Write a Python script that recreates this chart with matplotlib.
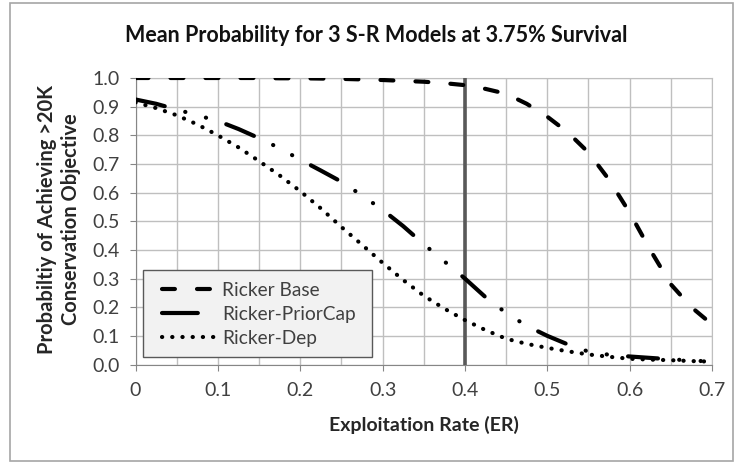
import matplotlib
matplotlib.use("Agg")
import matplotlib.pyplot as plt
from matplotlib.patches import Rectangle
from matplotlib.ticker import MultipleLocator

plt.rcParams['font.family'] = ['Lato', 'DejaVu Sans']

er = [0.0, 0.025, 0.05, 0.075, 0.1, 0.125, 0.15, 0.175, 0.2, 0.225, 0.25, 0.275, 0.3,
      0.325, 0.35, 0.375, 0.4, 0.425, 0.45, 0.475, 0.5, 0.525, 0.55, 0.575, 0.6,
      0.625, 0.65, 0.675, 0.7]
ricker_base = [1.0, 1.0, 1.0, 1.0, 1.0, 1.0, 1.0, 0.999, 0.999, 0.998, 0.997, 0.995, 0.993,
               0.99, 0.987, 0.982, 0.975, 0.962, 0.945, 0.91, 0.865, 0.81, 0.74, 0.645, 0.53,
               0.4, 0.28, 0.2, 0.14]
ricker_priorcap = [0.925, 0.91, 0.89, 0.87, 0.85, 0.822, 0.79, 0.755, 0.715, 0.677, 0.638, 0.59, 0.54,
                   0.483, 0.42, 0.36, 0.30, 0.235, 0.18, 0.135, 0.10, 0.07, 0.045, 0.034, 0.028,
                   0.023, 0.018, 0.014, 0.01]
ricker_dep = [0.915, 0.895, 0.87, 0.838, 0.80, 0.758, 0.71, 0.66, 0.605, 0.545, 0.48, 0.418, 0.355,
              0.295, 0.24, 0.195, 0.155, 0.12, 0.09, 0.072, 0.058, 0.046, 0.035, 0.027, 0.02,
              0.017, 0.015, 0.012, 0.01]
vline_er = 0.4

title = "Mean Probability for 3 S-R Models at 3.75% Survival"
xlabel = "Exploitation Rate (ER)"
ylabel = "Probabiltiy of Achieving >20K\nConservation Objective"
xticks = [0, 0.1, 0.2, 0.3, 0.4, 0.5, 0.6, 0.7]
xticklabels = ["0", "0.1", "0.2", "0.3", "0.4", "0.5", "0.6", "0.7"]
yticks = [0.0, 0.1, 0.2, 0.3, 0.4, 0.5, 0.6, 0.7, 0.8, 0.9, 1.0]
yticklabels = ["%.1f" % v for v in yticks]

W, H = 736, 462
fig = plt.figure(figsize=(W / 100, H / 100), dpi=100)
fig.patches.append(Rectangle((10 / W, 1 - 461 / H), 723 / W, 458 / H, transform=fig.transFigure,
                             fill=False, edgecolor='#a6a6a6', linewidth=1.2))
ax = fig.add_axes([135.5 / W, 1 - 364.5 / H, 576.5 / W, 286.5 / H])

ax.set_xlim(0, 0.7)
ax.set_ylim(0, 1.0)
ax.xaxis.set_minor_locator(MultipleLocator(0.05))
ax.set_xticks(xticks)
ax.set_xticklabels(xticklabels)
ax.set_yticks(yticks)
ax.set_yticklabels(yticklabels)
ax.grid(True, which='both', color='#bfbfbf', linewidth=1.0)
ax.set_axisbelow(True)
ax.tick_params(axis='both', which='major', length=4.3, color='#868686', labelsize=14, labelcolor='#404040')
ax.tick_params(axis='x', which='minor', length=0)
ax.tick_params(axis='x', which='major', pad=8)
ax.tick_params(axis='y', which='major', pad=7)
for s in ['top', 'right']:
    ax.spines[s].set_color('#bfbfbf')
for s in ['left', 'bottom']:
    ax.spines[s].set_color('#868686')

ax.axvline(vline_er, color='#595959', linewidth=2.6, zorder=3)

LW = 3.0
l1, = ax.plot(er, ricker_base, color='black', linewidth=LW, label='Ricker Base',
              dash_capstyle='round', zorder=4)
l1.set_dashes([3.1, 5.3])
l2, = ax.plot(er, ricker_priorcap, color='black', linewidth=LW, label='Ricker-PriorCap',
              dash_capstyle='round', zorder=4)
l2.set_dashes([7.2, 5.1, 0.05, 5.1, 0.05, 5.1])
l3, = ax.plot(er, ricker_dep, color='black', linewidth=LW, label='Ricker-Dep',
              dash_capstyle='round', zorder=4)
l3.set_dashes([0.05, 2.4])

# legend box
ax.add_patch(Rectangle((7 / 576, 7.5 / 286), 229 / 576, 87 / 286, transform=ax.transAxes,
                       facecolor='#f2f2f2', edgecolor='#595959', linewidth=1.0, zorder=5))
leg = ax.legend(handles=[l1, l2, l3], loc='center left', bbox_to_anchor=(26.5 / 576, 50 / 286),
                fontsize=13.8, frameon=False, handlelength=2.77,
                borderpad=0.0, labelspacing=0.38, handletextpad=0.36, borderaxespad=0.0)
leg.set_zorder(6)
for t in leg.get_texts():
    t.set_color('#404040')
leg.legend_handles[1].set_dashes([8.6, 100])

fig.text(423.5 / W, 1 - 425 / H, xlabel, ha='center', va='center', fontsize=14,
         fontweight='bold', color='#262626')
fig.text(59 / W, 1 - 219 / H, ylabel, ha='center', va='center', rotation=90, fontsize=14.5,
         fontweight='bold', color='#262626', linespacing=1.25, multialignment='center')
fig.text(376 / W, 1 - 36 / H, title, ha='center', va='center', fontsize=15.5,
         fontweight='bold', color='#111111')

fig.savefig('out.png', dpi=100)
